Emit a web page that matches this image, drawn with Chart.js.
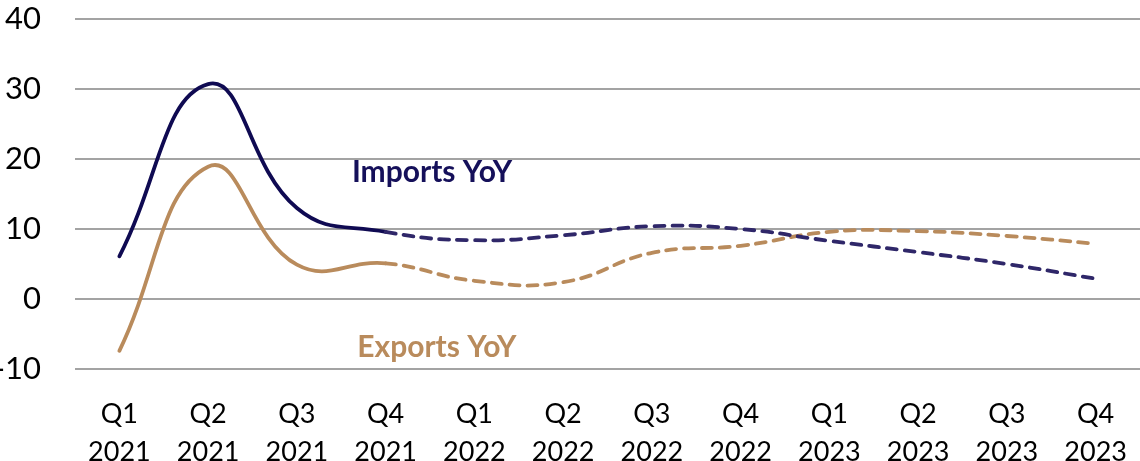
<!DOCTYPE html>
<html lang="en">
  <head>
    <meta charset="UTF-8" />
    <title>Imports and Exports YoY</title>
    <script src="https://cdn.jsdelivr.net/npm/chart.js"></script>
    <style>
      html, body {
        margin: 0;
        padding: 0;
        background: #fff;
      }
      #wrapper {
        width: 1140px;
        height: 461px;
      }
    </style>
  </head>
  <body>
    <div id="wrapper">
      <canvas id="tradeChart"></canvas>
    </div>

    <script>
      // quarters, two-line labels
      var labels = [
        ["Q1", "2021"], ["Q2", "2021"], ["Q3", "2021"], ["Q4", "2021"],
        ["Q1", "2022"], ["Q2", "2022"], ["Q3", "2022"], ["Q4", "2022"],
        ["Q1", "2023"], ["Q2", "2023"], ["Q3", "2023"], ["Q4", "2023"]
      ];

      // YoY % change
      var importsYoY = [6.1, 30.7, 13.0, 9.6, 8.4, 9.1, 10.4, 10.0, 8.3, 6.7, 5.0, 2.9];
      var exportsYoY = [-7.4, 18.9, 4.9, 5.1, 2.6, 2.4, 6.6, 7.6, 9.6, 9.7, 9.0, 7.9];

      var yTicks = [-10, 0, 10, 20, 30, 40];

      // from Q4 2021 on the lines are forecasts (dashed)
      var lastActual = 3;

      // series name labels: [text, x index, y value, colour]
      var seriesLabels = [
        ["Imports YoY", 2.62, 16.7, "#15105a"],
        ["Exports YoY", 2.68, -8.3, "#b98b5c"]
      ];

      var dashed = function (ctx) {
        return ctx.p0DataIndex >= lastActual ? [10, 8] : undefined;
      };

      var labelPlugin = {
        id: "seriesLabels",
        afterDatasetsDraw: function (chart) {
          var c = chart.ctx;
          var xs = chart.scales.x;
          var ys = chart.scales.y;
          c.save();
          c.font = "bold 30px Lato";
          c.textAlign = "left";
          c.textBaseline = "alphabetic";
          seriesLabels.forEach(function (l) {
            c.fillStyle = l[3];
            c.fillText(l[0], xs.getPixelForValue(l[1]), ys.getPixelForValue(l[2]));
          });
          c.restore();
        },
      };

      var ctx = document.getElementById("tradeChart").getContext("2d");
      var chart = new Chart(ctx, {
        type: "line",
        data: {
          labels: labels,
          datasets: [
            {
              label: "Imports YoY",
              data: importsYoY,
              borderColor: "#0f0a52",
              borderWidth: 3.8,
              tension: 0.45,
              pointRadius: 0,
              borderCapStyle: "round",
              segment: {
                borderDash: dashed,
                borderColor: function (ctx) {
                  return ctx.p0DataIndex >= lastActual ? "#2f2769" : undefined;
                },
              },
            },
            {
              label: "Exports YoY",
              data: exportsYoY,
              borderColor: "#b98b5c",
              borderWidth: 3.8,
              tension: 0.45,
              pointRadius: 0,
              borderCapStyle: "round",
              segment: {
                borderDash: dashed,
              },
            },
          ],
        },
        options: {
          responsive: true,
          maintainAspectRatio: false,
          animation: false,
          layout: {
            padding: { top: 19, right: 0, bottom: 0, left: 0 },
          },
          plugins: {
            legend: { display: false },
            tooltip: { enabled: false },
          },
          scales: {
            x: {
              offset: true,
              grid: { display: false },
              border: { display: false },
              ticks: {
                color: "#000",
                font: { family: "Lato", size: 27, lineHeight: 1.42 },
                padding: 18,
                maxRotation: 0,
                autoSkip: false,
              },
              afterFit: function (axis) {
                axis.height = 92;
                axis.paddingLeft = 0;
                axis.paddingRight = 0;
              },
            },
            y: {
              min: -10,
              max: 40,
              afterBuildTicks: function (axis) {
                axis.ticks = yTicks.map(function (v) { return { value: v }; });
              },
              grid: {
                color: "#a3a3a3",
                lineWidth: 2,
                drawTicks: false,
              },
              border: { display: false },
              ticks: {
                color: "#000",
                font: { family: "Lato", size: 31 },
                padding: 34,
              },
              afterFit: function (axis) {
                axis.width = 75;
                axis.paddingTop = 0;
                axis.paddingBottom = 0;
              },
            },
          },
        },
        plugins: [labelPlugin],
      });
    </script>
  </body>
</html>
